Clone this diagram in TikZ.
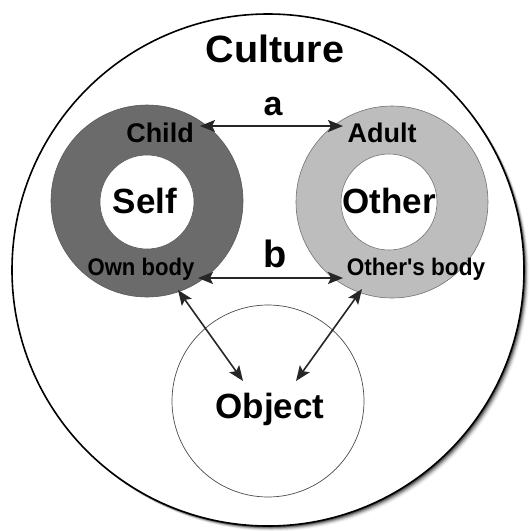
\documentclass[tikz,border=0pt]{standalone}
\usepackage{fontspec}
\setmainfont{Liberation Sans}
\usetikzlibrary{arrows.meta}
\begin{document}
\begin{tikzpicture}[x=1pt,y=-1pt,
  big/.style={font=\bfseries\fontsize{35}{40}\selectfont, anchor=base, inner sep=0pt},
  mid/.style={font=\bfseries\fontsize{27}{30}\selectfont, anchor=base, inner sep=0pt},
  small/.style={font=\bfseries\fontsize{24}{28}\selectfont, anchor=base, inner sep=0pt},
  tip/.tip={Stealth[length=15pt,width=12pt,inset=3pt]},
  link/.style={line width=1.6pt, draw=black!85, tip-tip}
]
\useasboundingbox (0,0) rectangle (531,531);
\fill[white] (0,0) rectangle (531,531);
% shadow of the culture circle
\foreach \i/\o in {1/0.35,2/0.3,3/0.22,4/0.15,5/0.1,6/0.06,7/0.03}
  \fill[black,opacity=\o] (268+\i*0.75,270+\i*0.75) circle[radius=256pt];
\fill[white] (268,270) circle[radius=256pt];
\draw[line width=1.6pt] (268,270) coordinate (culturec) circle[radius=256pt];
% Self donut
\draw[fill=black!58, draw=black!65, line width=0.6pt] (147,201) circle[radius=96pt];
\draw[fill=white, draw=black!65, line width=0.6pt] (147,202) circle[radius=47pt];
% Other donut
\draw[fill=black!26, draw=black!55, line width=0.6pt] (392,202) circle[radius=96pt];
\draw[fill=white, draw=black!55, line width=0.6pt] (389,202) circle[radius=48pt];
% Object circle
\draw[draw=black!70, line width=0.7pt] (268,401) circle[radius=96pt];
% texts
\node[big, font=\bfseries\fontsize{38}{42}\selectfont] (culture) at (275,62) {\scalebox{1.04}[1]{Culture}};
\node[big, font=\bfseries\fontsize{34}{38}\selectfont] (a) at (273,115) {a};
\node[big, font=\bfseries\fontsize{38}{42}\selectfont] (b) at (275,267) {b};
\node[mid] (child) at (160,142) {Child};
\node[mid] (adult) at (382,142) {Adult};
\node[big] (self) at (145,213) {Self};
\node[big] (other) at (389,213) {Other};
\node[small] (own) at (141,275) {\scalebox{0.92}[1]{Own body}};
\node[small] (othersbody) at (416,275) {\scalebox{0.94}[1]{Other\textquotesingle s body}};
\node[big] (object) at (270,418) {Object};
% arrow endpoints
\coordinate (a1) at (200,126);
\coordinate (a2) at (343,126);
\coordinate (b1) at (198,278);
\coordinate (b2) at (343,278);
\coordinate (l1) at (178,290);
\coordinate (l2) at (243,381);
\coordinate (r1) at (362,289);
\coordinate (r2) at (296,381);
\draw[link] (a1) -- (a2);
\draw[link] (b1) -- (b2);
\draw[link] (l1) -- (l2);
\draw[link] (r1) -- (r2);
\end{tikzpicture}
\end{document}
